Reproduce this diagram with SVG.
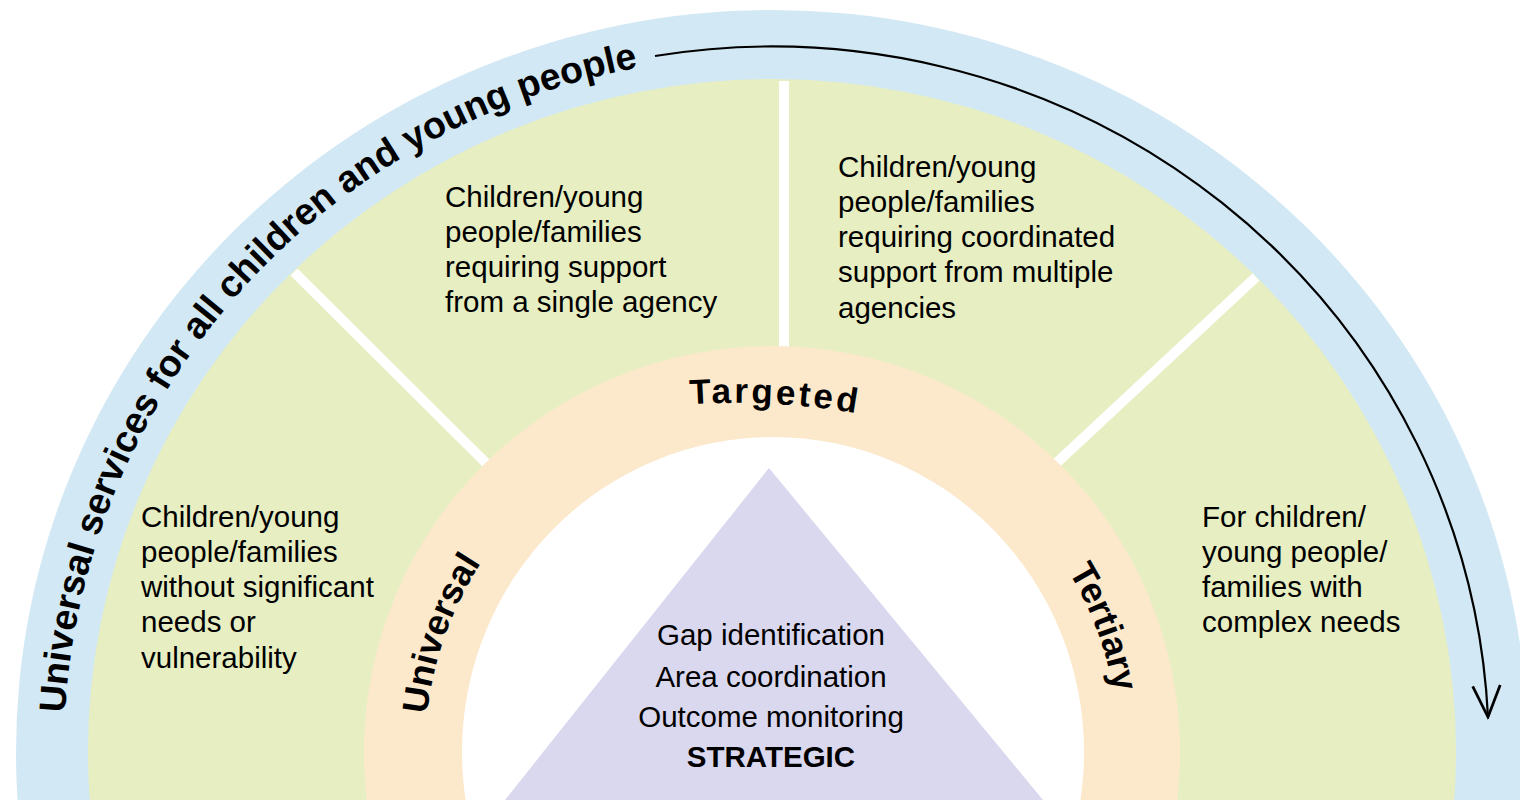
<svg xmlns="http://www.w3.org/2000/svg" xmlns:xlink="http://www.w3.org/1999/xlink" width="1520" height="800" viewBox="0 0 1520 800">
<style>
.t{font-family:"Liberation Sans",Arial,sans-serif;font-size:29.5px;fill:#000}
.b{font-weight:bold}
.ring{font-family:"Liberation Sans",Arial,sans-serif;font-weight:bold;font-size:36px;fill:#000}
.outer{font-family:"Liberation Sans",Arial,sans-serif;font-weight:bold;font-size:37.5px;fill:#000}
.sep{stroke:#fff;stroke-width:10;stroke-linecap:butt;fill:none}
</style>
<defs>
<path id="outerArc" d="M 64 752 A 708 697 0 0 1 772 55 A 708 697 0 0 1 1480 752"/>
<path id="midArc" d="M 425 752 A 347 347 0 0 1 772 405 A 347 347 0 0 1 1119 752"/>
<path id="topArc" d="M 595 417 A 700 700 0 0 1 875 417"/>
<marker id="open" markerUnits="userSpaceOnUse" markerWidth="40" markerHeight="40" viewBox="-30 -15 32 30" refX="0" refY="0" orient="auto">
<path d="M -25 -11 L 0 0 L -25 11" fill="none" stroke="#000" stroke-width="2.2"/>
</marker>
</defs>
<rect width="1520" height="800" fill="#fff"/>
<g id="band-universal-services">
<ellipse cx="772" cy="752" rx="756" ry="742" fill="#D2E8F4"/>
<text class="outer"><textPath xlink:href="#outerArc" href="#outerArc" startOffset="39">Universal services for all children and young people</textPath></text>
</g>
<g id="band-groups">
<ellipse cx="772" cy="752" rx="684" ry="673" fill="#E6EEC2"/>
<line class="sep" x1="784" y1="81" x2="784" y2="360"/>
<line class="sep" x1="294" y1="272" x2="492" y2="469"/>
<line class="sep" x1="1256" y1="277" x2="1050" y2="469"/>
</g>
<g id="ring-levels">
<ellipse cx="772" cy="752" rx="408" ry="406" fill="#FCE9CC"/>
<ellipse cx="773" cy="752" rx="311" ry="315" fill="#fff"/>
<text class="ring"><textPath xlink:href="#midArc" href="#midArc" startOffset="38">Universal</textPath></text>
<text class="ring"><textPath xlink:href="#midArc" href="#midArc" startOffset="900">Tertiary</textPath></text>
<text class="ring" style="font-size:35px;letter-spacing:3px"><textPath xlink:href="#topArc" href="#topArc" startOffset="96">Targeted</textPath></text>
</g>
<g id="node-universal-group">
<text class="t" x="141" y="526.5">Children/young</text>
<text class="t" x="141" y="561.8">people/families</text>
<text class="t" x="141" y="597.1">without significant</text>
<text class="t" x="141" y="632.4">needs or</text>
<text class="t" x="141" y="667.7">vulnerability</text>
</g>
<g id="node-single-agency">
<text class="t" x="445" y="206.5">Children/young</text>
<text class="t" x="445" y="241.8">people/families</text>
<text class="t" x="445" y="277.1">requiring support</text>
<text class="t" x="445" y="312.4">from a single agency</text>
</g>
<g id="node-multiple-agencies">
<text class="t" x="838" y="176.5">Children/young</text>
<text class="t" x="838" y="211.8">people/families</text>
<text class="t" x="838" y="247.1">requiring coordinated</text>
<text class="t" x="838" y="282.4">support from multiple</text>
<text class="t" x="838" y="317.7">agencies</text>
</g>
<g id="node-complex-needs">
<text class="t" x="1202" y="526.5">For children/</text>
<text class="t" x="1202" y="561.8">young people/</text>
<text class="t" x="1202" y="597.1">families with</text>
<text class="t" x="1202" y="632.4">complex needs</text>
</g>
<g id="node-strategic">
<polygon points="769,468 505,800 1043,800" fill="#DAD8EE"/>
<text class="t" x="771" y="645" text-anchor="middle">Gap identification</text>
<text class="t" x="771" y="686.5" text-anchor="middle">Area coordination</text>
<text class="t" x="771" y="726.5" text-anchor="middle">Outcome monitoring</text>
<text class="t b" x="771" y="767" text-anchor="middle">STRATEGIC</text>
</g>
<g id="connectors">
<path d="M 655 56 A 717 705 0 0 1 1488 717" fill="none" stroke="#000" stroke-width="2.2" marker-end="url(#open)"/>
</g>
</svg>
